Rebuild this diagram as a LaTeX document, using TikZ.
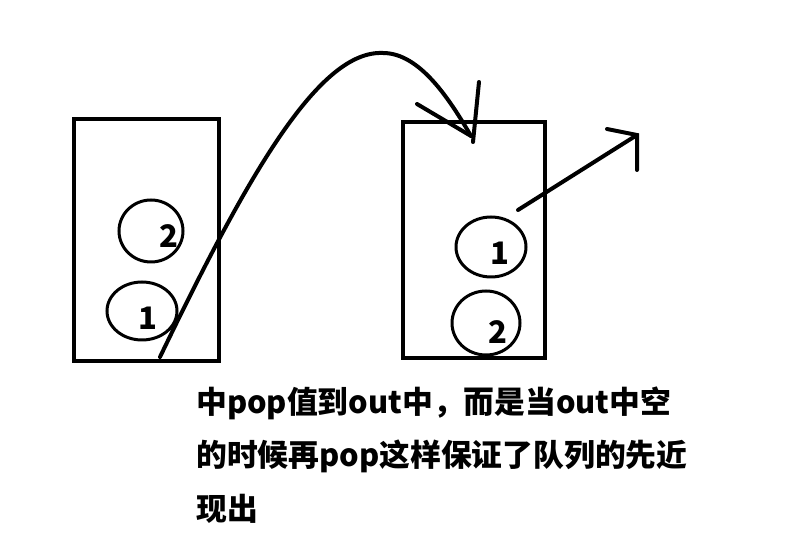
\documentclass[tikz,border=0pt]{standalone}
\usepackage{fontspec}
\newfontfamily\cjk{Noto Sans CJK SC}
\tikzset{
  frame/.style={line width=4pt},
  ring/.style={line width=3pt},
  stroke/.style={line width=4pt, line cap=round},
  digit/.style={inner sep=0pt, font=\cjk\bfseries\fontsize{31}{31}\selectfont},
  txt/.style={inner sep=0pt, anchor=base west, font=\cjk\bfseries\fontsize{30.8}{31}\selectfont}
}
\begin{document}
\begin{tikzpicture}[x=1pt,y=-1pt]
\useasboundingbox (0,0) rectangle (788,534);
% left stack
\draw[frame] (74,119) rectangle (219,361);
\draw[ring] (151,231) ellipse [x radius=32, y radius=31];
\draw[ring] (142,311) ellipse [x radius=35, y radius=29];
\node[digit] (l2) at (169,236) {2};
\node[digit] (l1) at (148,318) {1};
% right stack
\draw[frame] (403,122) rectangle (545,358);
\draw[ring] (491,247) ellipse [x radius=35, y radius=30];
\draw[ring] (486,323) ellipse [x radius=34, y radius=32];
\node[digit] (r1) at (500,253) {1};
\node[digit] (r2) at (498,332) {2};
% big curved arrow
\coordinate (cs) at (160,357);
\coordinate (cp) at (383,53);
\coordinate (ct) at (471,136);
\draw[stroke] (cs) .. controls (250,170) and (320,50) .. (cp)
  .. controls (420,53) and (450,100) .. (ct);
\coordinate (h1) at (417,104);
\coordinate (h2a) at (479,82);
\coordinate (h2b) at (473,142);
\draw[stroke] (h1) -- (ct);
\draw[stroke] (h2a) -- (h2b);
% right arrow
\coordinate (as) at (518,210);
\coordinate (at) at (637,135);
\coordinate (ah1) at (607,129);
\coordinate (ah2) at (637,170);
\draw[stroke] (as) -- (at);
\draw[stroke] (ah1) -- (at) -- (ah2);
% text
\node[txt] (t1) at (196,414) {中pop值到out中，而是当out中空};
\node[txt] (t2) at (196,467) {的时候再pop这样保证了队列的先近};
\node[txt] (t3) at (196,521) {现出};
\end{tikzpicture}
\end{document}
